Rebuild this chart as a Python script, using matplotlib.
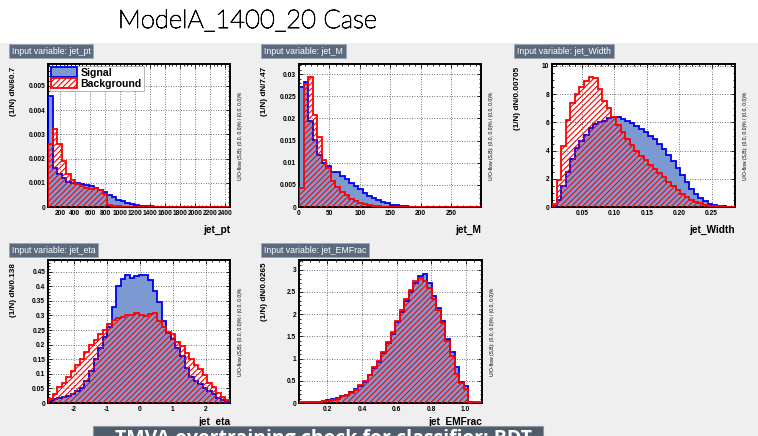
import numpy as np
import matplotlib
matplotlib.use("Agg")
import matplotlib.pyplot as plt
import matplotlib.patheffects as pe
from matplotlib.patches import Rectangle, Patch
from matplotlib.ticker import AutoMinorLocator, FormatStrFormatter

# normalised input-variable distributions, 40 bins each
pt_start, pt_width = 40.0, 60.7
pt_signal = np.array([4.6, 1.6, 1.35, 1.2, 1.05, 1.0, 1.0, 0.95, 0.9, 0.85,
                      0.8, 0.7, 0.62, 0.5, 0.4, 0.3, 0.25, 0.18, 0.12, 0.08,
                      0.05, 0.04, 0.03, 0.02, 0.015, 0.01, 0.01, 0.01, 0.008, 0.006,
                      0.005, 0.005, 0.004, 0.004, 0.003, 0.003, 0.002, 0.002, 0.002, 0.002]) * 1e-3
pt_background = np.array([2.6, 3.2, 2.6, 1.9, 1.35, 1.1, 0.95, 0.85, 0.8, 0.75,
                          0.8, 0.7, 0.55, 0.1, 0.05, 0.03, 0.02, 0.015, 0.01, 0.01,
                          0.008, 0.006, 0.005, 0.005, 0.004, 0.004, 0.003, 0.003, 0.003, 0.002,
                          0.002, 0.002, 0.002, 0.002, 0.002, 0.002, 0.002, 0.002, 0.002, 0.002]) * 1e-3

m_start, m_width = 0.0, 7.47
m_signal = [0.027, 0.0283, 0.0195, 0.0152, 0.0118, 0.0100, 0.0092, 0.0080, 0.0080, 0.0070,
            0.0063, 0.0055, 0.0048, 0.0040, 0.0032, 0.0025, 0.0020, 0.0015, 0.0011, 0.0008,
            0.0005, 0.0004, 0.0003, 0.0002, 0.0001, 0.00005, 0.00005, 0.00005, 0.00005, 0.00005,
            0.00005, 0.00005, 0.00005, 0.00005, 0.00005, 0.00005, 0.00005, 0.00005, 0.00005, 0.00005]
m_background = [0.0042, 0.0278, 0.0293, 0.0207, 0.0158, 0.0106, 0.0088, 0.0058, 0.0045, 0.0035,
                0.0026, 0.0019, 0.0013, 0.0009, 0.0006, 0.0004, 0.0003, 0.0002, 0.0001, 0.00003,
                0.00003, 0.00003, 0.00003, 0.00003, 0.00003, 0.00003, 0.00003, 0.00003, 0.00003, 0.00003,
                0.00003, 0.00003, 0.00003, 0.00003, 0.00003, 0.00003, 0.00003, 0.00003, 0.00003, 0.00003]

w_start, w_width = 0.004, 0.00705
w_signal = [0.1, 0.5, 1.5, 2.5, 3.4, 4.2, 4.7, 5.1, 5.6, 5.9,
            6.0, 6.1, 6.3, 6.4, 6.35, 6.25, 6.1, 5.95, 5.75, 5.5,
            5.3, 5.05, 4.8, 4.5, 4.1, 3.7, 3.25, 2.75, 2.25, 1.75,
            1.3, 0.95, 0.65, 0.4, 0.22, 0.12, 0.06, 0.04, 0.02, 0.01]
w_background = [0.2, 1.9, 4.3, 6.2, 7.4, 8.0, 8.5, 8.9, 9.2, 9.15,
                8.4, 7.5, 7.0, 6.4, 5.8, 5.3, 4.8, 4.4, 4.0, 3.6,
                3.3, 3.0, 2.7, 2.4, 2.1, 1.8, 1.5, 1.2, 0.95, 0.7,
                0.5, 0.35, 0.25, 0.15, 0.1, 0.06, 0.04, 0.03, 0.03, 0.03]

eta_start, eta_width = -2.78, 0.138
eta_signal = [0.008, 0.012, 0.016, 0.020, 0.025, 0.032, 0.040, 0.052, 0.075, 0.11,
              0.15, 0.19, 0.225, 0.26, 0.33, 0.40, 0.425, 0.44, 0.43, 0.435,
              0.44, 0.44, 0.42, 0.385, 0.345, 0.28, 0.24, 0.22, 0.19, 0.16,
              0.12, 0.09, 0.075, 0.065, 0.05, 0.04, 0.03, 0.018, 0.01, 0.005]
eta_background = [0.015, 0.03, 0.055, 0.07, 0.09, 0.11, 0.13, 0.15, 0.175, 0.2,
                  0.215, 0.235, 0.25, 0.27, 0.285, 0.292, 0.295, 0.30, 0.302, 0.31,
                  0.30, 0.298, 0.305, 0.31, 0.28, 0.26, 0.245, 0.235, 0.21, 0.195,
                  0.17, 0.15, 0.13, 0.115, 0.095, 0.07, 0.055, 0.035, 0.02, 0.01]

em_start, em_width = 0.035, 0.0265
em_signal = [0.01, 0.01, 0.02, 0.02, 0.03, 0.04, 0.06, 0.08, 0.12, 0.15,
             0.18, 0.25, 0.32, 0.38, 0.48, 0.62, 0.78, 0.92, 1.12, 1.35,
             1.55, 1.82, 2.05, 2.3, 2.5, 2.7, 2.85, 2.9, 2.7, 2.4,
             2.15, 1.85, 1.45, 1.15, 0.8, 0.48, 0.38, 0.02, 0.01, 0.01]
em_background = [0.02, 0.02, 0.02, 0.03, 0.03, 0.05, 0.05, 0.07, 0.1, 0.15,
                 0.17, 0.22, 0.3, 0.4, 0.5, 0.62, 0.8, 0.95, 1.15, 1.38,
                 1.6, 1.85, 2.1, 2.35, 2.55, 2.75, 2.82, 2.75, 2.6, 2.35,
                 2.1, 1.8, 1.4, 1.05, 0.65, 0.45, 0.32, 0.02, 0.02, 0.02]

W, H = 758, 436
SIG_FILL = "#7d99d1"
SIG_LINE = "#0000ee"
BKG_LINE = "#ff0000"
BOX = "#5b6a7d"
ROOT_FONT = "Liberation Sans"
HATCH = "//////"

plt.rcParams["hatch.linewidth"] = 0.8
plt.rcParams["axes.unicode_minus"] = False

fig = plt.figure(figsize=(W / 100, H / 100), dpi=100)
fig.patch.set_facecolor("white")

# grey canvas below the slide title
fig.add_artist(Rectangle((0, 0), 1, (H - 43) / H, transform=fig.transFigure,
                         facecolor="#efefef", edgecolor="none", zorder=0))

# light face thickened a little with a thin stroke
fig.text(248 / W, 1 - 21 / H, "ModelA_1400_20 Case", family="Lato", weight="light",
         fontsize=18.5, ha="center", va="center", color="black",
         path_effects=[pe.withStroke(linewidth=0.6, foreground="black")])


def px_axes(left, top, right, bottom):
    return fig.add_axes([left / W, 1 - bottom / H, (right - left) / W, (bottom - top) / H])


def panel(rect, box_xy, var, start, width, sig, bkg, ylim, xticks, yticks, fmt,
          legend=False, xlabel_y=-0.16):
    ax = px_axes(*rect)
    edges = start + width * np.arange(len(sig) + 1)
    ax.stairs(sig, edges, fill=True, facecolor=SIG_FILL, edgecolor="none", zorder=2)
    ax.stairs(sig, edges, baseline=0, color=SIG_LINE, lw=1.3, zorder=3)
    ax.stairs(bkg, edges, fill=True, facecolor="none", edgecolor=BKG_LINE,
              hatch=HATCH, lw=1.3, zorder=4)
    ax.set_xlim(edges[0], edges[-1])
    ax.set_ylim(*ylim)
    ax.set_xticks(xticks)
    ax.set_yticks(yticks)
    ax.yaxis.set_major_formatter(FormatStrFormatter(fmt))
    ax.xaxis.set_minor_locator(AutoMinorLocator())
    ax.yaxis.set_minor_locator(AutoMinorLocator())
    ax.tick_params(which="both", direction="in", top=True, right=True, width=0.6,
                   labelsize=4.8, pad=2)
    ax.tick_params(which="major", length=3)
    ax.tick_params(which="minor", length=1.5)
    for lab in ax.get_xticklabels() + ax.get_yticklabels():
        lab.set_fontfamily(ROOT_FONT)
        lab.set_fontweight("bold")
    ax.grid(True, which="major", ls=(0, (1, 2)), color="#444444", lw=0.6, zorder=1)
    ax.set_axisbelow(True)
    for s in ax.spines.values():
        s.set_linewidth(1.4)
    ax.set_facecolor("white")

    ax.text(-0.19, 0.98, "(1/N) dN/%s" % width, transform=ax.transAxes, rotation=90,
            rotation_mode="anchor", ha="right", va="center", fontsize=5.9,
            weight="bold", family=ROOT_FONT)
    ax.text(1.0, xlabel_y, var, transform=ax.transAxes, ha="right", va="center",
            fontsize=7.3, weight="bold", family=ROOT_FONT)
    ax.text(1.055, 0.5, "U/O-flow (S,B): (0.0, 0.0)% / (0.0, 0.0)%", transform=ax.transAxes,
            rotation=90, ha="center", va="center", fontsize=3.6, family=ROOT_FONT)
    fig.text(box_xy[0] / W, 1 - box_xy[1] / H, "Input variable: " + var, fontsize=6.3,
             family=ROOT_FONT, color="white", ha="left", va="center",
             bbox=dict(boxstyle="square,pad=0.3", facecolor=BOX, edgecolor="#9aa4b0", lw=0.5))

    if legend:
        handles = [Patch(facecolor=SIG_FILL, edgecolor=SIG_LINE, lw=1.3, label="Signal"),
                   Patch(facecolor="white", edgecolor=BKG_LINE, hatch=HATCH, lw=1.3,
                         label="Background")]
        leg = ax.legend(handles=handles, loc="upper left", bbox_to_anchor=(0.0, 1.0),
                        borderaxespad=0.15, fancybox=False, framealpha=1, edgecolor="#999999",
                        prop=dict(family=ROOT_FONT, weight="bold", size=7.6),
                        handlelength=2.4, handleheight=1.1, labelspacing=0.05,
                        borderpad=0.15, handletextpad=0.4)
        leg.get_frame().set_linewidth(0.5)
        leg.set_zorder(6)
    return ax


panel((48, 64, 230, 207), (12, 51), "jet_pt", pt_start, pt_width, pt_signal, pt_background,
      (0, 0.0059), np.arange(200, 2401, 200), [0, 0.001, 0.002, 0.003, 0.004, 0.005], "%g",
      legend=True)
panel((299, 64, 481, 207), (264, 51), "jet_M", m_start, m_width, m_signal, m_background,
      (0, 0.0323), [0, 50, 100, 150, 200, 250],
      [0, 0.005, 0.01, 0.015, 0.02, 0.025, 0.03], "%g")
panel((552, 64, 735, 207), (517, 51), "jet_Width", w_start, w_width, w_signal, w_background,
      (0, 10.14), [0.05, 0.1, 0.15, 0.2, 0.25], [0, 2, 4, 6, 8, 10], "%g")
panel((48, 260, 230, 403), (12, 250), "jet_eta", eta_start, eta_width, eta_signal, eta_background,
      (0, 0.49), [-2, -1, 0, 1, 2], np.arange(0, 0.46, 0.05), "%g", xlabel_y=-0.135)
panel((299, 260, 482, 403), (264, 250), "jet_EMFrac", em_start, em_width, em_signal, em_background,
      (0, 3.22), [0.2, 0.4, 0.6, 0.8, 1], [0, 0.5, 1, 1.5, 2, 2.5, 3], "%g", xlabel_y=-0.135)

# banner at the bottom, cut by the slide edge
fig.add_artist(Rectangle((93 / W, 0), 450 / W, 10 / H, transform=fig.transFigure,
                         facecolor="#4e5c6b", edgecolor="#8d97a3", lw=0.8, zorder=5))
fig.text(115 / W, 1 - 429 / H, "TMVA overtraining check for classifier: BDT",
         family="Open Sans", weight="bold", fontsize=14, color="white",
         ha="left", va="top", zorder=6)

fig.savefig("out.png", dpi=100)
